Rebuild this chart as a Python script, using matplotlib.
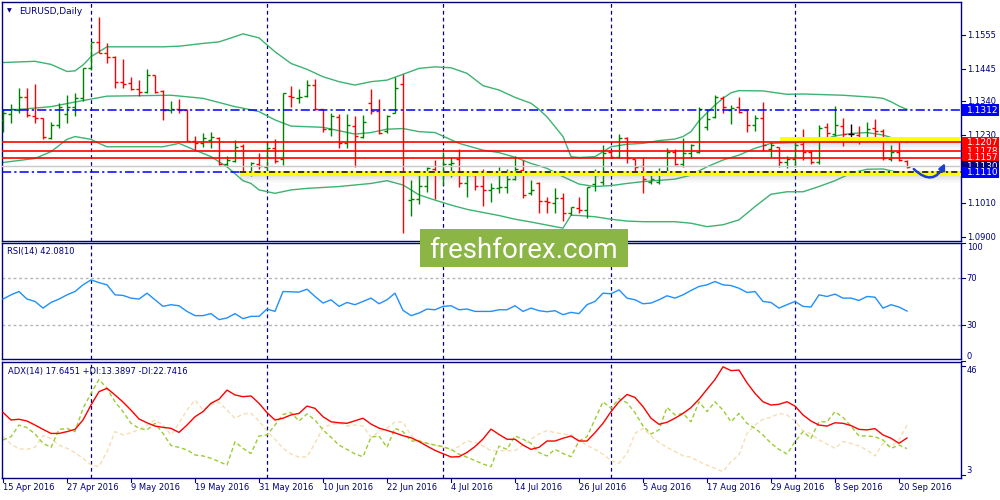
import numpy as np
import matplotlib.pyplot as plt
import matplotlib.transforms as mtransforms
from matplotlib.patches import Rectangle, FancyArrowPatch

# daily EURUSD bars, 15 Apr 2016 .. 21 Sep 2016
opens = [1.1280, 1.1298, 1.1312, 1.1355, 1.1293, 1.1285, 1.1220, 1.1263, 1.1299, 1.1323,
         1.1350, 1.1447, 1.1531, 1.1496, 1.1485, 1.1404, 1.1401, 1.1379, 1.1370, 1.1424,
         1.1375, 1.1312, 1.1316, 1.1312, 1.1213, 1.1204, 1.1215, 1.1221, 1.1137, 1.1148,
         1.1195, 1.1112, 1.1137, 1.1128, 1.1189, 1.1152, 1.1357, 1.1350, 1.1357, 1.1393,
         1.1314, 1.1249, 1.1288, 1.1206, 1.1260, 1.1226, 1.1334, 1.1310, 1.1245, 1.1303,
         1.1396, 1.1020, 1.1023, 1.1066, 1.1120, 1.1107, 1.1137, 1.1152, 1.1074, 1.1101,
         1.1066, 1.1053, 1.1058, 1.1064, 1.1088, 1.1118, 1.1044, 1.1077, 1.1018, 1.1012,
         1.1026, 1.0979, 1.0993, 1.0988, 1.1072, 1.1080, 1.1176, 1.1161, 1.1221, 1.1152,
         1.1131, 1.1080, 1.1080, 1.1112, 1.1177, 1.1137, 1.1172, 1.1177, 1.1258, 1.1290,
         1.1350, 1.1312, 1.1321, 1.1312, 1.1263, 1.1285, 1.1185, 1.1191, 1.1145, 1.1152,
         1.1202, 1.1177, 1.1145, 1.1256, 1.1234, 1.1260, 1.1234, 1.1231, 1.1217, 1.1253,
         1.1245, 1.1152, 1.1177, 1.1148]
highs = [1.1314, 1.1330, 1.1382, 1.1385, 1.1396, 1.1286, 1.1274, 1.1336, 1.1361, 1.1368,
         1.1447, 1.1531, 1.1614, 1.1528, 1.1486, 1.1476, 1.1420, 1.1409, 1.1444, 1.1425,
         1.1376, 1.1342, 1.1348, 1.1314, 1.1228, 1.1236, 1.1240, 1.1223, 1.1163, 1.1215,
         1.1202, 1.1145, 1.1172, 1.1212, 1.1219, 1.1368, 1.1390, 1.1379, 1.1409, 1.1412,
         1.1316, 1.1303, 1.1299, 1.1299, 1.1293, 1.1296, 1.1380, 1.1347, 1.1296, 1.1420,
         1.1428, 1.1085, 1.1110, 1.1128, 1.1150, 1.1177, 1.1161, 1.1185, 1.1109, 1.1107,
         1.1120, 1.1077, 1.1128, 1.1120, 1.1163, 1.1150, 1.1085, 1.1080, 1.1029, 1.1058,
         1.1042, 1.0999, 1.1031, 1.1064, 1.1120, 1.1199, 1.1182, 1.1234, 1.1226, 1.1153,
         1.1161, 1.1107, 1.1123, 1.1188, 1.1185, 1.1220, 1.1202, 1.1323, 1.1315, 1.1361,
         1.1357, 1.1328, 1.1353, 1.1314, 1.1296, 1.1339, 1.1207, 1.1193, 1.1164, 1.1209,
         1.1250, 1.1182, 1.1263, 1.1269, 1.1325, 1.1285, 1.1267, 1.1260, 1.1272, 1.1283,
         1.1249, 1.1199, 1.1209, 1.1150]
lows = [1.1242, 1.1271, 1.1301, 1.1288, 1.1269, 1.1217, 1.1217, 1.1253, 1.1269, 1.1293,
        1.1342, 1.1442, 1.1496, 1.1463, 1.1382, 1.1382, 1.1377, 1.1357, 1.1366, 1.1368,
        1.1280, 1.1301, 1.1301, 1.1208, 1.1182, 1.1193, 1.1188, 1.1133, 1.1128, 1.1145,
        1.1107, 1.1098, 1.1120, 1.1112, 1.1141, 1.1134, 1.1323, 1.1336, 1.1353, 1.1312,
        1.1242, 1.1228, 1.1188, 1.1188, 1.1128, 1.1220, 1.1298, 1.1234, 1.1236, 1.1303,
        1.0912, 1.0969, 1.1007, 1.1047, 1.1023, 1.1069, 1.1096, 1.1064, 1.1029, 1.1053,
        1.1001, 1.1015, 1.1042, 1.1042, 1.1085, 1.1026, 1.1037, 1.0979, 1.0979, 1.0977,
        1.0953, 1.0972, 1.0977, 1.0961, 1.1051, 1.1069, 1.1155, 1.1155, 1.1139, 1.1112,
        1.1044, 1.1072, 1.1072, 1.1109, 1.1134, 1.1128, 1.1155, 1.1174, 1.1247, 1.1285,
        1.1301, 1.1267, 1.1301, 1.1242, 1.1245, 1.1180, 1.1159, 1.1128, 1.1123, 1.1126,
        1.1150, 1.1137, 1.1137, 1.1220, 1.1228, 1.1195, 1.1209, 1.1201, 1.1209, 1.1215,
        1.1150, 1.1148, 1.1148, 1.1123]
closes = [1.1303, 1.1314, 1.1355, 1.1296, 1.1285, 1.1223, 1.1263, 1.1323, 1.1323, 1.1350,
          1.1447, 1.1531, 1.1496, 1.1485, 1.1404, 1.1398, 1.1379, 1.1371, 1.1424, 1.1371,
          1.1312, 1.1314, 1.1312, 1.1213, 1.1204, 1.1220, 1.1223, 1.1137, 1.1150, 1.1193,
          1.1110, 1.1139, 1.1131, 1.1189, 1.1148, 1.1366, 1.1353, 1.1355, 1.1393, 1.1314,
          1.1249, 1.1293, 1.1206, 1.1263, 1.1228, 1.1274, 1.1310, 1.1239, 1.1293, 1.1385,
          1.1110, 1.1025, 1.1067, 1.1123, 1.1104, 1.1137, 1.1139, 1.1077, 1.1101, 1.1066,
          1.1053, 1.1058, 1.1064, 1.1088, 1.1120, 1.1037, 1.1053, 1.1018, 1.1013, 1.1026,
          1.0979, 1.0997, 1.0988, 1.1061, 1.1101, 1.1174, 1.1161, 1.1220, 1.1155, 1.1128,
          1.1087, 1.1087, 1.1112, 1.1177, 1.1137, 1.1172, 1.1199, 1.1314, 1.1283, 1.1353,
          1.1321, 1.1320, 1.1307, 1.1263, 1.1285, 1.1199, 1.1199, 1.1145, 1.1152, 1.1199,
          1.1177, 1.1145, 1.1253, 1.1239, 1.1263, 1.1234, 1.1234, 1.1217, 1.1250, 1.1245,
          1.1155, 1.1177, 1.1150, 1.1128]

# Bollinger bands, read at sampled bars
bb_up_idx = [0, 4, 6, 8, 9, 10, 11, 12, 13, 20, 22, 25, 27, 29, 30, 32, 34, 36, 38, 40,
             42, 44, 46, 48, 50, 52, 54, 56, 58, 60, 62, 64, 66, 67, 68, 69, 70, 71, 72, 74,
             75, 76, 78, 80, 82, 84, 85, 86, 87, 88, 89, 90, 91, 92, 95, 98, 100, 105, 109, 110,
             111, 112, 113]
bb_up = [1.1466, 1.1470, 1.1460, 1.1437, 1.1439, 1.1458, 1.1485, 1.1501, 1.1517, 1.1517,
         1.1519, 1.1528, 1.1533, 1.1550, 1.1559, 1.1546, 1.1501, 1.1463, 1.1444, 1.1420,
         1.1404, 1.1393, 1.1404, 1.1409, 1.1428, 1.1447, 1.1452, 1.1449, 1.1431, 1.1391,
         1.1377, 1.1353, 1.1334, 1.1314, 1.1290, 1.1258, 1.1226, 1.1161, 1.1158, 1.1161,
         1.1177, 1.1193, 1.1201, 1.1204, 1.1213, 1.1218, 1.1226, 1.1242, 1.1277, 1.1303,
         1.1328, 1.1350, 1.1368, 1.1375, 1.1374, 1.1363, 1.1364, 1.1360, 1.1353, 1.1350,
         1.1339, 1.1325, 1.1314]
bb_mid_idx = [0, 2, 6, 9, 13, 21, 25, 29, 30, 32, 34, 36, 40, 44, 46, 48, 50, 52, 54, 57,
              60, 62, 64, 66, 68, 70, 72, 74, 76, 78, 80, 84, 86, 88, 90, 92, 94, 96, 99, 102,
              104, 106, 108, 110, 112, 113]
bb_mid = [1.1312, 1.1314, 1.1323, 1.1338, 1.1357, 1.1360, 1.1350, 1.1323, 1.1318, 1.1307,
          1.1280, 1.1260, 1.1256, 1.1234, 1.1239, 1.1250, 1.1252, 1.1242, 1.1239, 1.1204,
          1.1182, 1.1174, 1.1159, 1.1139, 1.1123, 1.1096, 1.1072, 1.1064, 1.1067, 1.1074,
          1.1080, 1.1088, 1.1101, 1.1128, 1.1150, 1.1166, 1.1188, 1.1204, 1.1207, 1.1212,
          1.1228, 1.1236, 1.1239, 1.1231, 1.1215, 1.1207]
bb_low_idx = [0, 4, 6, 8, 9, 11, 12, 13, 20, 22, 24, 26, 28, 30, 31, 32, 34, 36, 38, 42,
              46, 48, 50, 52, 54, 56, 58, 60, 62, 64, 66, 68, 70, 71, 72, 74, 76, 78, 80, 84,
              86, 88, 90, 92, 94, 96, 98, 100, 102, 104, 106, 108, 110, 112, 113]
bb_low = [1.1142, 1.1155, 1.1177, 1.1217, 1.1226, 1.1217, 1.1204, 1.1193, 1.1193, 1.1204,
          1.1182, 1.1161, 1.1128, 1.1083, 1.1074, 1.1053, 1.1042, 1.1053, 1.1058, 1.1064,
          1.1074, 1.1083, 1.1069, 1.1037, 1.1020, 1.1004, 1.0990, 1.0980, 1.0970, 1.0958,
          1.0949, 1.0939, 1.0929, 1.0971, 1.0970, 1.0966, 1.0958, 1.0952, 1.0950, 1.0950,
          1.0945, 1.0934, 1.0940, 1.0956, 1.0999, 1.1039, 1.1047, 1.1047, 1.1064, 1.1083,
          1.1107, 1.1120, 1.1121, 1.1109, 1.1107]

rsi = [52.3, 55.9, 58.7, 52.3, 50.3, 44.6, 49.4, 52.3, 55.9, 58.7,
       64.4, 68.6, 66.3, 64.4, 55.9, 55.4, 53.1, 52.3, 57.3, 51.7,
       46.1, 47.5, 46.6, 41.8, 38.2, 38.2, 39.9, 34.8, 36.2, 39.9,
       35.6, 37.6, 37.6, 43.8, 41.8, 58.7, 58.5, 58.2, 60.7, 54.5,
       48.9, 51.7, 46.1, 49.4, 47.5, 50.3, 53.1, 48.3, 51.7, 57.3,
       42.7, 38.2, 40.4, 43.8, 43.2, 46.1, 46.6, 43.2, 43.8, 41.8,
       41.8, 41.8, 43.2, 43.2, 46.6, 41.8, 44.6, 42.4, 41.5, 42.4,
       39.0, 41.0, 39.9, 47.5, 50.3, 57.3, 56.8, 60.1, 53.1, 51.7,
       48.3, 48.9, 51.7, 55.1, 53.1, 55.9, 59.6, 63.0, 64.4, 67.2,
       64.4, 63.8, 61.5, 57.9, 58.7, 50.3, 49.4, 44.6, 47.5, 50.3,
       46.1, 45.5, 55.9, 54.5, 56.5, 53.1, 53.1, 51.1, 54.5, 53.9,
       44.6, 47.5, 45.5, 42.1]
adx = [27.7, 24.7, 25.0, 24.3, 22.7, 21.0, 19.4, 19.4, 20.1, 21.0,
       24.7, 30.6, 35.9, 37.2, 34.6, 31.8, 28.6, 25.1, 23.6, 22.3,
       21.8, 21.4, 19.8, 22.7, 26.0, 28.0, 31.3, 32.9, 36.5, 34.6,
       33.9, 34.2, 31.3, 27.6, 24.7, 25.4, 26.7, 27.3, 30.2, 29.3,
       26.0, 24.0, 23.6, 23.4, 24.4, 25.4, 23.1, 21.5, 20.6, 19.6,
       18.5, 17.7, 16.2, 14.4, 12.7, 11.4, 10.1, 10.2, 11.9, 14.2,
       17.2, 21.1, 19.0, 17.1, 17.1, 14.8, 13.1, 13.9, 16.4, 16.4,
       17.5, 18.4, 16.4, 16.4, 19.7, 23.4, 28.0, 31.9, 34.8, 33.6,
       30.0, 25.4, 23.0, 23.8, 25.4, 27.3, 29.6, 32.9, 36.8, 40.7,
       45.7, 44.2, 44.4, 39.4, 35.2, 31.9, 30.6, 30.9, 31.9, 30.2,
       26.7, 24.3, 22.7, 22.3, 23.6, 23.4, 22.5, 21.0, 20.8, 21.3,
       18.8, 17.5, 15.5, 17.6]
plus_di = [16.8, 18.1, 22.7, 21.7, 19.2, 15.5, 13.9, 21.0, 21.4, 20.1,
           29.3, 35.2, 40.7, 37.2, 31.9, 28.0, 23.4, 21.4, 20.8, 23.4,
           19.4, 14.6, 13.9, 12.9, 10.9, 10.5, 9.6, 8.3, 6.9, 16.1,
           13.5, 11.5, 18.4, 18.8, 22.7, 26.9, 27.6, 24.3, 27.1, 24.7,
           20.8, 17.9, 14.8, 13.1, 11.3, 10.2, 17.9, 18.4, 13.9, 21.4,
           20.1, 16.4, 16.5, 15.5, 14.8, 14.2, 13.1, 11.2, 10.0, 8.7,
           7.3, 6.3, 14.4, 13.1, 18.4, 17.1, 15.5, 11.8, 10.5, 13.1,
           11.5, 10.2, 16.4, 18.1, 25.0, 31.9, 29.3, 33.2, 31.5, 27.6,
           22.3, 19.2, 20.8, 29.7, 26.7, 27.3, 24.0, 31.9, 28.0, 31.9,
           28.6, 24.0, 27.3, 23.4, 21.4, 18.8, 15.5, 13.1, 11.3, 16.1,
           20.1, 17.5, 24.0, 24.0, 28.0, 25.7, 22.3, 18.4, 18.4, 18.1,
           16.8, 13.5, 14.8, 13.4]
minus_di = [18.1, 15.2, 13.3, 13.1, 13.9, 18.6, 17.3, 14.8, 13.5, 11.8,
            9.6, 6.9, 6.3, 12.2, 20.1, 18.8, 19.7, 21.0, 22.7, 24.7,
            22.7, 18.8, 23.4, 28.6, 32.6, 28.6, 30.9, 31.7, 28.6, 25.4,
            27.1, 27.3, 24.3, 20.4, 17.1, 13.5, 11.3, 10.0, 10.2, 15.5,
            21.7, 22.9, 23.6, 22.3, 22.7, 22.3, 17.9, 20.0, 21.4, 24.0,
            23.9, 18.6, 16.2, 15.5, 14.8, 13.9, 12.9, 14.2, 16.5, 15.8,
            14.4, 12.6, 12.6, 12.6, 12.6, 14.8, 17.1, 19.2, 20.5, 19.7,
            19.2, 18.8, 16.8, 14.6, 13.1, 11.2, 8.7, 7.6, 11.5, 19.4,
            21.4, 18.4, 15.8, 13.9, 12.2, 10.6, 10.0, 8.3, 6.9, 5.6,
            4.3, 8.3, 10.9, 19.4, 22.7, 25.0, 25.8, 27.3, 26.7, 24.3,
            20.5, 19.2, 16.8, 15.2, 13.5, 16.2, 15.5, 14.4, 12.9, 10.5,
            15.5, 14.2, 16.8, 22.7]

red_levels = [1.1207, 1.1178, 1.1157]
blue_levels = [1.1312, 1.1110]
bid_level = 1.1130
price_ticks = [1.1555, 1.1445, 1.1340, 1.1230, 1.1120, 1.1010, 1.0900]
rsi_levels = [70, 30]
rsi_ticks = [100, 70, 30, 0]
adx_ticks = [46, 3]
date_labels = ['15 Apr 2016', '27 Apr 2016', '9 May 2016', '19 May 2016', '31 May 2016',
               '10 Jun 2016', '22 Jun 2016', '4 Jul 2016', '14 Jul 2016', '26 Jul 2016',
               '5 Aug 2016', '17 Aug 2016', '29 Aug 2016', '8 Sep 2016', '20 Sep 2016']
date_bars = [0, 8, 16, 24, 32, 40, 48, 56, 64, 72, 80, 88, 96, 104, 112]
month_starts = [11, 33, 55, 76, 99]

NAVY = '#000080'
BULL = '#008000'
BEAR = '#FF0000'
BAND = '#3CB371'
FS = 6

plt.rcParams['font.family'] = ['DejaVu Sans']

fig = plt.figure(figsize=(10, 5), dpi=100)
fig.patch.set_facecolor('white')


def panel(top, bottom):
    # pixel rows of the 1000x500 canvas -> figure fractions
    return [0.002, 1 - bottom / 500.0, 0.959, (bottom - top) / 500.0]


ax = fig.add_axes(panel(2, 241))
ax_rsi = fig.add_axes(panel(243, 359))
ax_adx = fig.add_axes(panel(362, 478))

n = len(closes)
x = np.arange(n)
xmax = 119.75

for a in (ax, ax_rsi, ax_adx):
    a.set_xlim(-0.125, xmax)
    a.set_xticks([])
    a.set_yticks([])
    for s in a.spines.values():
        s.set_color(NAVY)
        s.set_linewidth(1.0)
    for m in month_starts:
        a.axvline(m, color=NAVY, lw=0.9, ls=(0, (3, 2.5)), zorder=1)


def right_labels(a, values, fmt, va_list=None):
    tr = mtransforms.blended_transform_factory(a.transAxes, a.transData)
    for k, v in enumerate(values):
        va = 'center' if va_list is None else va_list[k]
        a.plot([1.0, 1.004], [v, v], transform=tr, color=NAVY, lw=0.8, clip_on=False)
        a.text(1.006, v, fmt.format(v), transform=tr, fontsize=FS, color=NAVY,
               ha='left', va=va, clip_on=False)


# ---- main price panel ----
ax.set_ylim(1.08874, 1.16623)

ax.plot(bb_up_idx, bb_up, color=BAND, lw=1.0, zorder=2)
ax.plot(bb_mid_idx, bb_mid, color=BAND, lw=1.0, zorder=2)
ax.plot(bb_low_idx, bb_low, color=BAND, lw=1.0, zorder=2)

o = np.array(opens)
c = np.array(closes)
cols = np.where(c > o, BULL, np.where(c < o, BEAR, 'black'))
ax.vlines(x, lows, highs, colors=cols, lw=1.0, zorder=3)
ax.hlines(o, x - 0.38, x, colors=cols, lw=1.0, zorder=3)
ax.hlines(c, x, x + 0.38, colors=cols, lw=1.0, zorder=3)

# highlighted zones (yellow marker with a soft shadow)
zones = [(29.6, blue_levels[1], 0.0005, 0.0012), (97.1, red_levels[0], 0.0017, 0.0)]
for x0, lvl, up, down in zones:
    top = lvl + up
    bot = lvl - down
    xs = [x0, xmax]
    for k in range(6):
        ax.fill_between(xs, bot - 0.00035 * (k + 1), bot - 0.00035 * k,
                        color='#808080', alpha=0.22 - 0.035 * k, lw=0, zorder=3.5)
    ax.fill_between(xs, bot, top, color='#FFFF00', lw=0, zorder=3.6)

ax.axhline(bid_level, color='#C8C8C8', lw=1.0, zorder=3.7)
for lvl in red_levels:
    ax.axhline(lvl, color=BEAR, lw=1.2, zorder=4)
for lvl in blue_levels:
    ax.axhline(lvl, color='#0000FF', lw=1.1, ls=(0, (6, 2, 1.5, 2)), zorder=3.4)
ax.hlines(blue_levels[1], zones[0][0], xmax, colors='black', lw=1.1,
          linestyles=(0, (4, 2, 1.5, 2)), zorder=4)

arrow = FancyArrowPatch((113.6, 1.1127), (117.9, 1.1148), connectionstyle='arc3,rad=0.75',
                        arrowstyle='-|>', mutation_scale=9, lw=1.8, color='#1C3FD2', zorder=6)
ax.add_patch(arrow)

right_labels(ax, price_ticks, '{:.4f}')

# price tags on the right scale (drawn in stacking order)
trm = mtransforms.blended_transform_factory(ax.transAxes, ax.transData)
tag_h = 0.0036
tags = [(blue_levels[0], '#0000FF'), (red_levels[0], BEAR), (red_levels[1], BEAR),
        (red_levels[2], BEAR), (bid_level, NAVY), (blue_levels[1], '#0000FF')]
for k, (lvl, fc) in enumerate(tags):
    ax.add_patch(Rectangle((1.0012, lvl - tag_h / 2), 0.0385, tag_h, transform=trm,
                           fc=fc, ec='none', clip_on=False, zorder=7 + k * 0.1))
    ax.text(1.006, lvl, '{:.4f}'.format(lvl), transform=trm, fontsize=FS + 0.5,
            color='white', ha='left', va='center', clip_on=False, zorder=7.05 + k * 0.1)

ax.text(0.005, 0.962, '\u25BC', transform=ax.transAxes, fontsize=4.5, color=NAVY,
        ha='left', va='center')
ax.text(0.0175, 0.962, 'EURUSD,Daily', transform=ax.transAxes, fontsize=6.5, color=NAVY,
        ha='left', va='center')

# ---- RSI panel ----
ax_rsi.set_ylim(1.3, 100.0)
for lvl in rsi_levels:
    ax_rsi.axhline(lvl, color='#B4B4B4', lw=1.0, ls=(0, (2, 2)), zorder=1)
ax_rsi.plot(x, rsi, color='#1E90FF', lw=1.0, zorder=3)
right_labels(ax_rsi, rsi_ticks, '{:d}', ['top', 'center', 'center', 'bottom'])
ax_rsi.text(0.005, 0.93, 'RSI(14) {:.4f}'.format(42.0810), transform=ax_rsi.transAxes,
            fontsize=FS, color=NAVY, ha='left', va='center')

# ---- ADX panel ----
ax_adx.set_ylim(1.8, 47.6)
ax_adx.plot(x, minus_di, color='#F5DEB3', lw=1.0, ls=(0, (3, 2)), zorder=2)
ax_adx.plot(x, plus_di, color='#9ACD32', lw=1.0, ls=(0, (3, 2)), zorder=2)
ax_adx.plot(x, adx, color='#FF0000', lw=1.0, zorder=3)
right_labels(ax_adx, adx_ticks, '{:d}', ['top', 'bottom'])
ax_adx.text(0.006, 0.915, 'ADX(14) 17.6451 +DI:13.3897 -DI:22.7416',
            transform=ax_adx.transAxes, fontsize=FS, color=NAVY, ha='left', va='center')

# date axis under the last panel
trd = mtransforms.blended_transform_factory(ax_adx.transData, ax_adx.transAxes)
for b, lab in zip(date_bars, date_labels):
    ax_adx.plot([b, b], [0, -0.035], transform=trd, color=NAVY, lw=0.8, clip_on=False)
    ax_adx.text(b, -0.085, lab, transform=trd, fontsize=FS, color=NAVY,
                ha='left', va='center', clip_on=False)

# watermark box
fig.patches.append(Rectangle((0.420, 1 - 267 / 500.0), 0.208, 38 / 500.0,
                             transform=fig.transFigure, fc='#8BB545', ec='none', zorder=20))
fig.text(0.524, 1 - 258 / 500.0, 'freshforex.com', color='white', fontsize=20,
         family='Roboto', ha='center', va='baseline', zorder=21)

fig.savefig('out.png', dpi=100, facecolor='white')
